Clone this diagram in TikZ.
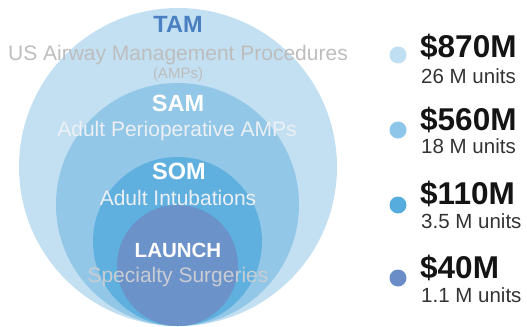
\documentclass[tikz,border=0pt]{standalone}
\usepackage{fontspec}
\setmainfont{Liberation Sans}
\definecolor{tamfill}{HTML}{C3E0F2}
\definecolor{samfill}{HTML}{92C7E7}
\definecolor{somfill}{HTML}{5FB0DF}
\definecolor{lchfill}{HTML}{6C92CA}
\definecolor{dotA}{HTML}{C0DFF2}
\definecolor{dotB}{HTML}{8DC6E8}
\definecolor{dotC}{HTML}{56ACDD}
\definecolor{dotD}{HTML}{6A8DC8}
\definecolor{tamtext}{HTML}{4A7FC1}
\definecolor{graytext}{HTML}{BDBDBD}
\definecolor{paletext}{HTML}{ECF0F4}
\definecolor{lchsub}{HTML}{C9CDD3}
\definecolor{valtext}{HTML}{141414}
\definecolor{unittext}{HTML}{333333}
\tikzset{
  ring/.style={circle, draw=none, inner sep=0pt, minimum size=#1},
  ttl/.style={anchor=base, inner sep=0pt, font=\fontsize{23.5bp}{25bp}\selectfont\bfseries},
  sub/.style={anchor=base, inner sep=0pt, font=\fontsize{21bp}{23bp}\selectfont},
  legdot/.style={circle, draw=none, inner sep=0pt, minimum size=17bp},
  val/.style={anchor=base west, inner sep=0pt, text=valtext, font=\fontsize{31.5bp}{33bp}\selectfont\bfseries},
  unit/.style={anchor=base west, inner sep=0pt, text=unittext, font=\fontsize{20.5bp}{22bp}\selectfont}
}
\begin{document}
\begin{tikzpicture}[x=1bp, y=-1bp]
\useasboundingbox (0,0) rectangle (527,326);
% circles
\node[ring=318bp, fill=tamfill] (tam) at (178,167) {};
\node[ring=243bp, fill=samfill] (sam) at (177.5,204.5) {};
\node[ring=169bp, fill=somfill] (som) at (177.5,241.5) {};
\node[ring=121bp, fill=lchfill] (lch) at (177.5,265.5) {};
% labels
\node[ttl, text=tamtext] (tamt) at (178,32) {TAM};
\node[sub, text=graytext] (tams) at (178,60) {US Airway Management Procedures};
\node[anchor=base, inner sep=0pt, text=graytext, font=\fontsize{15bp}{17bp}\selectfont] (tamp) at (178,78) {(AMPs)};
\node[ttl, text=white] (samt) at (178,111) {SAM};
\node[sub, text=paletext] (sams) at (177,136) {Adult Perioperative AMPs};
\node[ttl, text=white] (somt) at (179,179) {SOM};
\node[sub, text=paletext] (soms) at (178,205) {Adult Intubations};
\node[ttl, text=white, font=\fontsize{20.5bp}{22bp}\selectfont\bfseries] (lcht) at (178,257) {LAUNCH};
\node[sub, text=lchsub] (lchs) at (178,282) {Specialty Surgeries};
% legend
\node[legdot, fill=dotA] (d1) at (398,55) {};
\node[val] (v1) at (420,57) {\$870M};
\node[unit] (u1) at (421,83) {26 M units};
\node[legdot, fill=dotB] (d2) at (398,130) {};
\node[val] (v2) at (420,130) {\$560M};
\node[unit] (u2) at (421,153) {18 M units};
\node[legdot, fill=dotC] (d3) at (398,205) {};
\node[val] (v3) at (420,204) {\$110M};
\node[unit] (u3) at (421,228) {3.5 M units};
\node[legdot, fill=dotD] (d4) at (398,278) {};
\node[val] (v4) at (420,278) {\$40M};
\node[unit] (u4) at (421,302) {1.1 M units};
\end{tikzpicture}
\end{document}
